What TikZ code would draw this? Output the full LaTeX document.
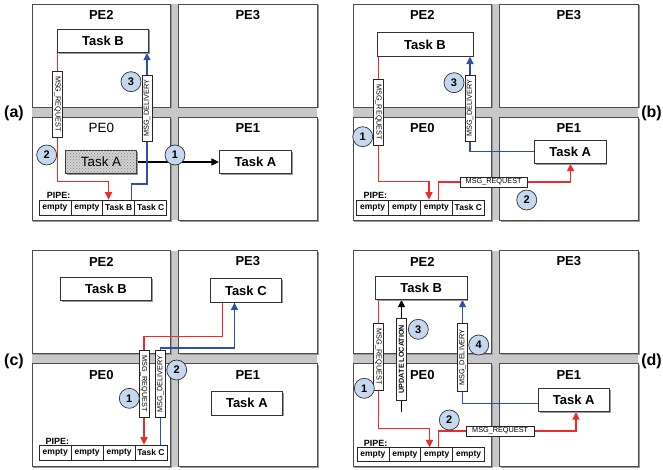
\documentclass[tikz,border=0pt]{standalone}
\usepackage{fontspec}
\setmainfont{Liberation Sans}
\usetikzlibrary{arrows.meta,shadows,patterns}
\pgfdeclarelayer{back}
\pgfdeclarelayer{mid}
\pgfsetlayers{back,mid,main}
\definecolor{myred}{HTML}{EE2A2A}
\definecolor{myblue}{HTML}{3050A8}
\definecolor{numblue}{HTML}{C5D8EF}
\definecolor{bandgray}{HTML}{C8C8C8}
\tikzset{
  shad/.style={drop shadow={shadow xshift=1.3pt, shadow yshift=-1.3pt, fill=black!40, opacity=1}},
  pebox/.style={shad, draw=black!70, fill=white, line width=0.9pt, inner sep=0,
    minimum width=138.7pt, minimum height=103pt},
  pelab/.style={font=\bfseries\fontsize{13}{13}\selectfont, inner sep=0},
  task/.style={shad, draw=black!80, fill=white, line width=0.8pt, inner sep=0,
    minimum height=23.3pt, font=\bfseries\fontsize{13}{13}\selectfont},
  num/.style={circle, draw=black!80, line width=0.7pt, fill=numblue, minimum size=20pt,
    inner sep=0, font=\bfseries\fontsize{11}{11}\selectfont},
  msgv/.style={draw=black!85, fill=white, line width=0.6pt, inner sep=0,
    minimum height=10pt, font=\fontsize{7.3}{7.3}\selectfont},
  cell/.style={draw=black!85, fill=white, line width=0.7pt, inner sep=0,
    minimum width=31.9pt, minimum height=15pt, font=\bfseries\fontsize{8.5}{8.5}\selectfont},
  pipelab/.style={anchor=base west, inner sep=0, font=\bfseries\fontsize{9}{9}\selectfont},
  panlab/.style={inner sep=0, font=\bfseries\fontsize{16}{16}\selectfont},
  tip/.style={-{Triangle[length=7.5pt,width=7pt]}},
  redln/.style={draw=myred, line width=1.5pt},
  bluln/.style={draw=myblue, line width=1.5pt},
  blkln/.style={draw=black, line width=1.4pt},
}
\newcommand{\pegrid}[4]{%
\begin{scope}[shift={(#2,#3)}]
  \fill[bandgray] (32,4) rectangle (316.7,220.5);
  \node[pebox] (#1-pe2) at (101.35,55.5) {};
  \node[pebox] (#1-pe3) at (247.85,55.5) {};
  \node[pebox] (#1-pe0) at (101.35,168.9) {};
  \node[pebox] (#1-pe1) at (247.85,168.9) {};
  \node[pelab] (#1-l2) at (101.35,15) {PE2};
  \node[pelab] (#1-l3) at (247.85,15) {PE3};
  \node[pelab, #4] (#1-l0) at (101.35,128.3) {PE0};
  \node[pelab] (#1-l1) at (247.85,128.3) {PE1};
\end{scope}}
\begin{document}
\begin{tikzpicture}[x=1pt,y=-1pt]
\useasboundingbox (0,0) rectangle (663,470);
\begin{pgfonlayer}{back}
  \pegrid{a}{0}{0}{font=\fontsize{13.4}{13.4}\selectfont}
  \pegrid{b}{321}{0}{}
  \pegrid{c}{0}{246.5}{}
  \pegrid{d}{321}{246.5}{}
\end{pgfonlayer}

% panel labels
\node[panlab] (lab-a) at (14,113) {(a)};
\node[panlab, anchor=east] (lab-b) at (662,113) {(b)};
\node[panlab] (lab-c) at (14,361.7) {(c)};
\node[panlab, anchor=east] (lab-d) at (662,361.7) {(d)};

% ---------------- panel (a)
\node[task, minimum width=90.6pt] (a-tb) at (103,40.65) {Task B};
\node[task, minimum width=71.4pt, fill=black!18,
  postaction={pattern=crosshatch dots, pattern color=black!45},
  font=\fontsize{13.4}{13.4}\selectfont] (a-ta0) at (101,162) {Task A};
\node[task, minimum width=72.4pt] (a-ta1) at (255.5,162) {Task A};
\node[msgv, rotate=-90, minimum width=66pt] (a-req) at (57.5,104) {MSG\_REQUEST};
\node[msgv, rotate=90, minimum width=66.7pt] (a-del) at (147,108.3) {MSG\_DELIVERY};
\node[cell] (a-p1) at (54.95,207.5) {empty};
\node[cell] (a-p2) at (86.85,207.5) {empty};
\node[cell] (a-p3) at (118.75,207.5) {Task B};
\node[cell] (a-p4) at (150.65,207.5) {Task C};
\node[pipelab] (a-pipe) at (46.7,199) {PIPE:};
\coordinate (a-r1) at (108.5,181.5);
\coordinate (a-b1) at (131.5,184);
\begin{pgfonlayer}{mid}
  \draw[blkln, tip] (a-ta0.east) -- (a-ta1.west);
  \draw[redln, tip] (a-tb.south -| a-req.center) -- (a-req.center |- a-r1) -- (a-r1) -- (a-r1 |- a-p3.north);
  \draw[bluln, tip] (a-p3.north -| a-b1) -- (a-b1) -- (a-del.center |- a-b1) -- (a-del.center |- a-tb.south);
\end{pgfonlayer}
\node[num] (a-n1) at (175,155) {1};
\node[num] (a-n2) at (46.7,155) {2};
\node[num] (a-n3) at (131,81.7) {3};

% ---------------- panel (b)
\node[task, minimum width=96pt] (b-tb) at (425,44.5) {Task B};
\node[task, minimum width=71.7pt] (b-ta) at (570.15,151.65) {Task A};
\node[msgv, rotate=-90, minimum width=65.7pt] (b-req) at (378.5,112.2) {MSG\_REQUEST};
\node[msgv, rotate=90, minimum width=66.7pt] (b-del) at (470,108.3) {MSG\_DELIVERY};
\node[msgv, minimum width=66.7pt] (b-reqh) at (493.65,182) {MSG\_REQUEST};
\node[cell] (b-p1) at (372.65,207.5) {empty};
\node[cell] (b-p2) at (404.55,207.5) {empty};
\node[cell] (b-p3) at (436.45,207.5) {empty};
\node[cell] (b-p4) at (468.35,207.5) {Task C};
\node[pipelab] (b-pipe) at (363.3,199) {PIPE:};
\coordinate (b-r1) at (429,181.5);
\coordinate (b-r2) at (438.5,182);
\coordinate (b-r3) at (570.5,182);
\coordinate (b-b1) at (470,151.5);
\begin{pgfonlayer}{mid}
  \draw[redln, tip] (b-tb.south -| b-req.center) -- (b-req.center |- b-r1) -- (b-r1) -- (b-r1 |- b-p3.north);
  \draw[redln, tip] (b-p3.north -| b-r2) -- (b-r2) -- (b-r3) -- (b-r3 |- b-ta.south);
  \draw[bluln, tip] (b-ta.west |- b-b1) -- (b-del.center |- b-b1) -- (b-del.center |- b-tb.south);
\end{pgfonlayer}
\node[num] (b-n1) at (362.7,136.7) {1};
\node[num] (b-n2) at (526.7,200) {2};
\node[num] (b-n3) at (454,82.7) {3};

% ---------------- panel (c)
\node[task, minimum width=91.4pt] (c-tb) at (106,289.2) {Task B};
\node[task, minimum width=71.7pt] (c-tc) at (245.85,290.5) {Task C};
\node[task, minimum width=71.7pt] (c-ta) at (246.85,403.35) {Task A};
\node[msgv, rotate=-90, minimum width=67.7pt] (c-req) at (144,383.85) {MSG\_REQUEST};
\node[msgv, rotate=90, minimum width=67.7pt] (c-del) at (160.5,383.85) {MSG\_DELIVERY};
\node[cell] (c-p1) at (55.25,452.5) {empty};
\node[cell] (c-p2) at (87.15,452.5) {empty};
\node[cell] (c-p3) at (119.05,452.5) {empty};
\node[cell] (c-p4) at (150.95,452.5) {Task C};
\node[pipelab] (c-pipe) at (45.5,444) {PIPE:};
\coordinate (c-r1) at (222.5,336.5);
\coordinate (c-b1) at (234.5,348);
\begin{pgfonlayer}{mid}
  \draw[redln, tip] (c-tc.south -| c-r1) -- (c-r1) -- (c-req.center |- c-r1) -- (c-req.center |- c-p4.north);
  \draw[bluln, tip] (c-p4.north -| c-del.center) -- (c-del.center |- c-b1) -- (c-b1) -- (c-b1 |- c-tc.south);
\end{pgfonlayer}
\node[num] (c-n1) at (129.3,398.3) {1};
\node[num] (c-n2) at (176.7,370) {2};

% ---------------- panel (d)
\node[task, minimum width=91.7pt] (d-tb) at (421.15,287.65) {Task B};
\node[task, minimum width=71pt] (d-ta) at (573.8,400) {Task A};
\node[msgv, rotate=-90, minimum width=66.7pt] (d-req) at (378.5,356.65) {MSG\_REQUEST};
\node[msgv, rotate=90, minimum width=81.7pt, font=\bfseries\fontsize{7.2}{7.2}\selectfont] (d-upd) at (401.5,359.15) {UPDATE LOCATION};
\node[msgv, rotate=90, minimum width=68.4pt] (d-del) at (462.5,357.5) {MSG\_DELIVERY};
\node[msgv, minimum width=68.3pt] (d-reqh) at (500.15,431) {MSG\_REQUEST};
\node[cell, minimum height=14pt] (d-p1) at (372.95,454.7) {empty};
\node[cell, minimum height=14pt] (d-p2) at (404.85,454.7) {empty};
\node[cell, minimum height=14pt] (d-p3) at (436.75,454.7) {empty};
\node[cell, minimum height=14pt] (d-p4) at (468.65,454.7) {empty};
\node[pipelab] (d-pipe) at (363.7,446.5) {PIPE:};
\coordinate (d-r1) at (429.5,428.5);
\coordinate (d-r2) at (438.5,431);
\coordinate (d-r3) at (576,431);
\coordinate (d-u0) at (401.5,411.7);
\coordinate (d-b1) at (462.5,403.5);
\begin{pgfonlayer}{mid}
  \draw[redln, tip] (d-tb.south -| d-req.center) -- (d-req.center |- d-r1) -- (d-r1) -- (d-r1 |- d-p3.north);
  \draw[redln, tip] (d-p3.north -| d-r2) -- (d-r2) -- (d-r3) -- (d-r3 |- d-ta.south);
  \draw[blkln, tip] (d-u0) -- (d-upd.center |- d-tb.south);
  \draw[bluln, tip] (d-ta.west |- d-b1) -- (d-del.center |- d-b1) -- (d-del.center |- d-tb.south);
\end{pgfonlayer}
\node[num] (d-n1) at (364.3,388.3) {1};
\node[num] (d-n2) at (449.3,420) {2};
\node[num] (d-n3) at (418.3,329.3) {3};
\node[num] (d-n4) at (478.7,345) {4};
\end{tikzpicture}
\end{document}
